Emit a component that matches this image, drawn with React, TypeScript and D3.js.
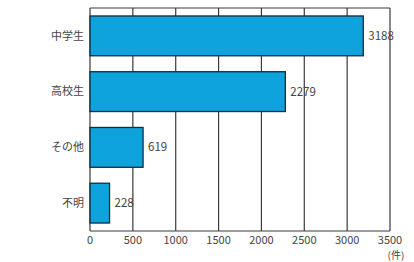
import * as d3 from 'd3';

const categories = ['中学生', '高校生', 'その他', '不明'];
const values = [3188, 2279, 619, 228];
const ticks = [0, 500, 1000, 1500, 2000, 2500, 3000, 3500];
const unitLabel = '(件)';

const W = 414;
const H = 262;
const left = 90;
const right = 390;
const top = 8;
const bottom = 231;

export default function App() {
  const x = d3.scaleLinear().domain([0, 3500]).range([left, right]);
  const y = d3.scaleBand<string>()
    .domain(categories)
    .range([top, bottom])
    .paddingInner(0.286)
    .paddingOuter(0.143);

  const font = '"Noto Sans CJK JP", "Noto Sans", sans-serif';

  return (
    <svg width={W} height={H} style={{ position: 'absolute', left: 0, top: 0, background: '#fff' }}>
      <rect x={0} y={0} width={W} height={H} fill="#fff" />
      {/* grid */}
      {ticks.map(t => (
        <line key={t} x1={x(t)} x2={x(t)} y1={top} y2={bottom} stroke="#3a3a3a" strokeWidth={1.2} />
      ))}
      <line x1={left} x2={right} y1={top} y2={top} stroke="#3a3a3a" strokeWidth={1.2} />
      <line x1={left} x2={right} y1={bottom} y2={bottom} stroke="#3a3a3a" strokeWidth={1.2} />
      {/* bars */}
      {categories.map((c, i) => (
        <g key={c}>
          <rect
            x={x(0)}
            y={y(c)!}
            width={x(values[i]) - x(0)}
            height={y.bandwidth()}
            fill="#0ea3dc"
            stroke="#1a2a38"
            strokeWidth={1.3}
          />
          <text
            x={x(values[i]) + 5}
            y={y(c)! + y.bandwidth() / 2}
            dy="0.35em"
            fontSize={11.5}
            fill="#444"
            fontFamily={font}
          >
            {values[i]}
          </text>
          <text
            x={left - 6}
            y={y(c)! + y.bandwidth() / 2}
            dy="0.35em"
            textAnchor="end"
            fontSize={11}
            fill="#444"
            fontFamily={font}
          >
            {c}
          </text>
        </g>
      ))}
      {/* tick labels */}
      {ticks.map(t => (
        <text
          key={'l' + t}
          x={x(t)}
          y={bottom + 13}
          textAnchor="middle"
          fontSize={11}
          fill="#444"
          fontFamily={font}
        >
          {t}
        </text>
      ))}
      <text x={right + 6} y={bottom + 28} textAnchor="middle" fontSize={10} fill="#444" fontFamily={font}>
        {unitLabel}
      </text>
    </svg>
  );
}
